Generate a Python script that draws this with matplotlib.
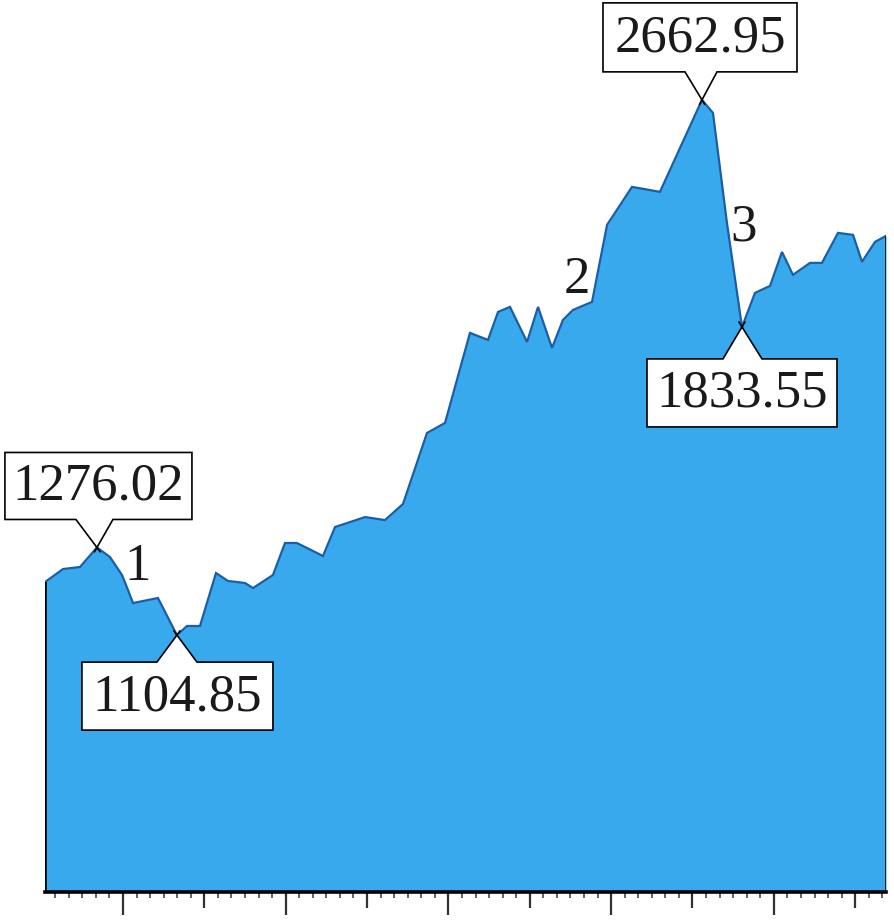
import matplotlib

matplotlib.use("Agg")
import matplotlib.pyplot as plt
import matplotlib.transforms as mtransforms
from matplotlib.patches import Polygon

# index value (x in weeks from start, y on a log scale)
weeks = [0.0, 1.33, 2.58, 3.83, 4.79, 5.68, 6.12, 6.49, 8.33, 9.73,
         10.47, 11.43, 12.61, 13.50, 14.75, 15.34, 16.81, 17.70, 18.58, 20.50,
         21.39, 23.60, 25.07, 26.40, 28.17, 29.50, 31.34, 32.67, 33.41, 34.29,
         35.55, 36.36, 37.39, 38.20, 38.94, 40.34, 41.45, 43.29, 45.35, 48.45,
         49.26, 50.29, 51.40, 52.36, 53.47, 54.35, 55.16, 56.42, 57.30, 58.48,
         59.59, 60.25, 61.21, 62.02]
index = [1205.5, 1231.6, 1235.7, 1276.02, 1256.2, 1219.5, 1189.9, 1164.6, 1174.3, 1104.85,
         1121.5, 1121.5, 1223.5, 1207.6, 1203.6, 1193.7, 1219.5, 1285.4, 1285.4, 1258.3,
         1319.6, 1341.4, 1334.8, 1370.5, 1540.2, 1565.8, 1815.5, 1794.8, 1879.3, 1894.9,
         1788.8, 1894.9, 1771.3, 1854.9, 1885.5, 1910.5, 2168.4, 2308.1, 2289.2, 2662.95,
         2606.5, 2175.5, 1833.55, 1939.0, 1961.5, 2074.2, 1997.3, 2037.1, 2037.1, 2140.0,
         2133.0, 2040.5, 2108.5, 2129.6]

# callouts: data index, label
callout_idx = [3, 9, 39, 42]
callout_text = ["1276.02", "1104.85", "2662.95", "1833.55"]

# phase numbers
phase_labels = ["1", "2", "3"]
phase_x = [6.86, 39.2, 51.5]
phase_y = [1236, 1982, 2160]

Y0, Y1 = 724.3, 3138.0
fill_col = "#39a9ee"
line_col = "#1a5ea6"

fig = plt.figure(figsize=(8.94, 9.23), dpi=100)
ax = fig.add_axes([45 / 894, 31 / 923, 841 / 894, 892 / 923])
ax.set_yscale("log")
ax.set_ylim(Y0, Y1)
ax.set_xlim(weeks[0], weeks[-1])

ax.fill_between(weeks, Y0, index, color=fill_col, lw=0)
ax.plot(weeks, index, color=line_col, lw=1.6, solid_joinstyle="miter")
ax.vlines(weeks[0], Y0, index[0], color="black", lw=2.6)
ax.vlines(weeks[-1], Y0, index[-1], color="#111111", lw=2.0)

for s in ("top", "right", "left"):
    ax.spines[s].set_visible(False)
ax.spines["bottom"].set_linewidth(2.6)
ax.yaxis.set_visible(False)

# ticks: long majors, medium majors, minor ticks
long_ticks = [5.75 + 12 * k for k in range(5)]
mid_ticks = [11.75 + 12 * k for k in range(5)]
minor_ticks = [0.75 + j for j in range(62) if (j - 5) % 6 != 0]
ax.set_xticks(mid_ticks)
ax.set_xticks(minor_ticks, minor=True)
ax.tick_params(axis="x", which="major", length=11.5, width=1.6, color="#333333",
               labelbottom=False, direction="out")
ax.tick_params(axis="x", which="minor", length=4.5, width=1.3, color="#555555",
               direction="out")
sec = ax.secondary_xaxis("bottom")
sec.set_xticks(long_ticks)
sec.spines["bottom"].set_visible(False)
sec.tick_params(axis="x", length=16.5, width=1.6, color="#333333", labelbottom=False)
sec.xaxis.set_minor_locator(matplotlib.ticker.NullLocator())

# speech-bubble callouts, geometry in pixels relative to the tip
# (left, right, near edge, far edge, pointer base left, pointer base right)
shapes = [(-92, 95, 28, 95, -21, 16),
          (-95, 96, -27, -95, -20, 20),
          (-99, 95, 28, 97, -17, 15),
          (-95, 95, -32, -100, -19, 20)]
serif = "Liberation Serif"
for i, label, (l, r, near, far, bl, br) in zip(callout_idx, callout_text, shapes):
    trans = fig.dpi_scale_trans + mtransforms.ScaledTranslation(weeks[i], index[i], ax.transData)
    p = 1 / 100
    verts = [(l * p, far * p), (r * p, far * p), (r * p, near * p), (br * p, near * p),
             (0, 0), (bl * p, near * p), (l * p, near * p)]
    ax.add_patch(Polygon(verts, closed=True, facecolor="white", edgecolor="black",
                         lw=1.2, transform=trans, clip_on=False, zorder=5))
    # short crossing strokes past the tip
    ext = -0.15
    for b in (bl, br):
        ax.plot([0, b * p * ext], [0, near * p * ext], color="black", lw=1.2,
                transform=trans, clip_on=False, zorder=5)
    ax.text((l + r) / 2 * p, (near + far) / 2 * p - 0.01, label, transform=trans,
            ha="center", va="center", fontsize=38, family=serif, color="#1a1a1a",
            zorder=6)

for t, x, y in zip(phase_labels, phase_x, phase_y):
    ax.text(x, y, t, ha="center", va="center", fontsize=38, family=serif,
            color="#1a1a1a", zorder=6)

fig.savefig("out.png", dpi=100, facecolor="white")
